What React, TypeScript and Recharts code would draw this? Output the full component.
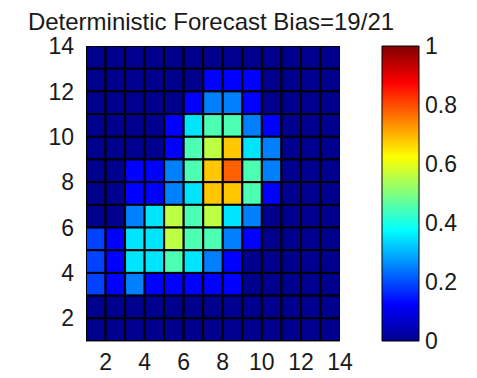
import { Bar, BarChart, Scatter, ScatterChart, XAxis, YAxis } from 'recharts';

// forecast probability per grid cell, rows listed top (y=13..14) to bottom (y=1..2)
const gridRows: number[][] = [
  [0, 0, 0, 0, 0, 0, 0, 0, 0, 0, 0, 0, 0],
  [0, 0, 0, 0, 0, 0, 0.125, 0.125, 0.125, 0, 0, 0, 0],
  [0, 0, 0, 0, 0, 0.125, 0.25, 0.25, 0.125, 0, 0, 0, 0],
  [0, 0, 0, 0, 0.125, 0.35, 0.45, 0.45, 0.25, 0.125, 0, 0, 0],
  [0, 0, 0, 0, 0.125, 0.45, 0.56, 0.68, 0.35, 0.25, 0, 0, 0],
  [0, 0, 0.125, 0.125, 0.25, 0.45, 0.68, 0.78, 0.45, 0.25, 0, 0, 0],
  [0, 0, 0.125, 0.125, 0.25, 0.35, 0.68, 0.68, 0.45, 0.125, 0, 0, 0],
  [0, 0, 0.25, 0.35, 0.56, 0.45, 0.56, 0.35, 0.25, 0, 0, 0, 0],
  [0.19, 0.125, 0.35, 0.35, 0.56, 0.45, 0.45, 0.25, 0.125, 0, 0, 0, 0],
  [0.19, 0.125, 0.35, 0.35, 0.45, 0.35, 0.25, 0.125, 0, 0, 0, 0, 0],
  [0.19, 0.125, 0.25, 0.125, 0.125, 0.125, 0.125, 0.125, 0, 0, 0, 0, 0],
  [0, 0, 0, 0, 0, 0, 0, 0, 0, 0, 0, 0, 0],
  [0, 0, 0, 0, 0, 0, 0, 0, 0, 0, 0, 0, 0],
];

const axisTicks = [2, 4, 6, 8, 10, 12, 14];
const colorbarTicks = [0, 0.2, 0.4, 0.6, 0.8, 1];
const colorbarData = [{ name: 'scale', v: 1 }];

const cells = gridRows.flatMap((row, i) =>
  row.map((v, j) => ({ x: j + 1.5, y: gridRows.length - i + 0.5, v }))
);

const PLOT_W = 254;
const PLOT_H = 295;
const CELL_W = PLOT_W / 13;
const CELL_H = PLOT_H / 13;
const FONT = '"Liberation Sans", Arial, sans-serif';

const clamp = (n: number) => Math.max(0, Math.min(1, n));
const jet = (v: number) => {
  const r = clamp(1.5 - Math.abs(4 * v - 3));
  const g = clamp(1.5 - Math.abs(4 * v - 2));
  const b = v < 0.125 ? 0.5625 + v * 3.5 : clamp(1.5 - Math.abs(4 * v - 1));
  return `rgb(${Math.round(r * 255)},${Math.round(g * 255)},${Math.round(b * 255)})`;
};

const Cell = (props: any) => {
  const { cx, cy, payload } = props;
  return (
    <rect
      x={cx - CELL_W / 2}
      y={cy - CELL_H / 2}
      width={CELL_W}
      height={CELL_H}
      fill={jet(payload.v)}
      stroke='#000'
      strokeWidth={2}
    />
  );
};

const tickStyle = { fontSize: 23, fill: '#1a1a1a', fontFamily: FONT };

const App = () => {
  return (
    <div style={{ position: 'relative', width: 461, height: 370 }}>
      <div
        style={{
          position: 'absolute',
          top: 0,
          left: 0,
          width: 406,
          textAlign: 'center',
          fontSize: 24,
          fontFamily: FONT,
          color: '#1a1a1a',
          lineHeight: '28px',
        }}
      >
        Deterministic Forecast Bias=19/21
      </div>
      <div style={{ position: 'absolute', top: 0, left: 0 }}>
        <ScatterChart
          width={461}
          height={370}
          margin={{ top: 38, right: 129, bottom: 7, left: 18 }}
        >
          <XAxis
            type='number'
            dataKey='x'
            domain={[1, 14]}
            ticks={axisTicks}
            allowDataOverflow
            height={30}
            tickLine={false}
            tickSize={0}
            tickMargin={13}
            axisLine={{ stroke: '#222' }}
            tick={tickStyle}
          />
          <YAxis
            type='number'
            dataKey='y'
            domain={[1, 14]}
            ticks={axisTicks}
            allowDataOverflow
            width={60}
            tickLine={false}
            tickSize={0}
            tickMargin={12}
            axisLine={false}
            tick={tickStyle}
          />
          <Scatter data={cells} shape={Cell} isAnimationActive={false} />
        </ScatterChart>
      </div>
      <div style={{ position: 'absolute', top: 0, left: 330 }}>
        <BarChart
          width={131}
          height={370}
          data={colorbarData}
          margin={{ top: 38, right: 0, bottom: 37, left: 44 }}
          barCategoryGap={0}
        >
          <defs>
            <linearGradient id='jetGrad' x1='0' y1='0' x2='0' y2='1'>
              <stop offset='0%' stopColor='#800000' />
              <stop offset='12.5%' stopColor='#ff0000' />
              <stop offset='37.5%' stopColor='#ffff00' />
              <stop offset='62.5%' stopColor='#00ffff' />
              <stop offset='87.5%' stopColor='#0000ff' />
              <stop offset='100%' stopColor='#00008f' />
            </linearGradient>
          </defs>
          <XAxis dataKey='name' hide />
          <YAxis
            orientation='right'
            type='number'
            domain={[0, 1]}
            ticks={colorbarTicks}
            width={50}
            tickLine={false}
            tickSize={0}
            tickMargin={6}
            axisLine={false}
            tick={tickStyle}
          />
          <Bar
            dataKey='v'
            fill='url(#jetGrad)'
            stroke='#000'
            strokeWidth={1}
            isAnimationActive={false}
          />
        </BarChart>
      </div>
    </div>
  );
};

export default App;
